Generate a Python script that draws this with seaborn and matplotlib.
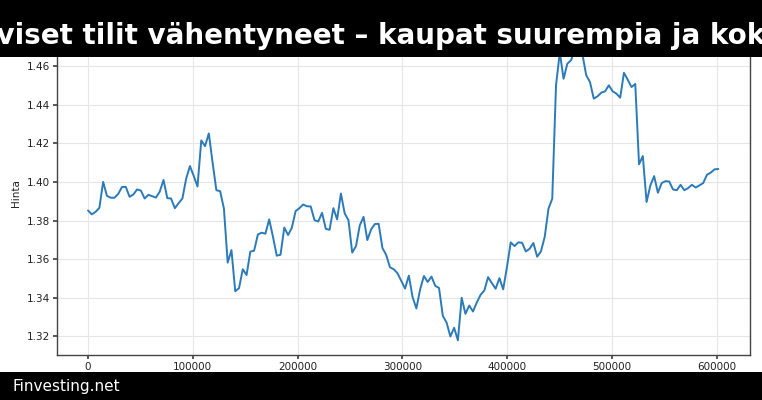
import matplotlib
matplotlib.use("Agg")
import matplotlib.pyplot as plt
from matplotlib.patches import Rectangle
import matplotlib.ticker as mticker
import seaborn as sns
import pandas as pd
import numpy as np

# ---- data ----
title_text = "Aktiiviset tilit vähentyneet – kaupat suurempia ja kokoisia"
footer_text = "Finvesting.net"
y_label = "Hinta"
x_step = 3603  # spacing between consecutive observations on the x axis
x_ticks = [0, 100000, 200000, 300000, 400000, 500000, 600000]
y_ticks = [1.32, 1.34, 1.36, 1.38, 1.40, 1.42, 1.44, 1.46]

prices = [
    1.3852, 1.3832, 1.3845, 1.3866, 1.4000, 1.3928, 1.3918, 1.3918, 1.3938, 1.3974,
    1.3974, 1.3923, 1.3935, 1.3961, 1.3955, 1.3914, 1.3933, 1.3926, 1.3919, 1.3950,
    1.4010, 1.3916, 1.3914, 1.3864, 1.3890, 1.3914, 1.4017, 1.4082, 1.4031, 1.3976,
    1.4215, 1.4185, 1.4251, 1.4100, 1.3957, 1.3952, 1.3862, 1.3582, 1.3647, 1.3434,
    1.3450, 1.3548, 1.3518, 1.3639, 1.3644, 1.3728, 1.3737, 1.3732, 1.3806, 1.3716,
    1.3618, 1.3623, 1.3764, 1.3725, 1.3763, 1.3849, 1.3864, 1.3883, 1.3874, 1.3873,
    1.3802, 1.3795, 1.3840, 1.3757, 1.3752, 1.3864, 1.3806, 1.3940, 1.3837, 1.3802,
    1.3634, 1.3668, 1.3775, 1.3819, 1.3699, 1.3754, 1.3782, 1.3783, 1.3658, 1.3622,
    1.3558, 1.3548, 1.3527, 1.3487, 1.3448, 1.3515, 1.3403, 1.3345, 1.3444, 1.3513,
    1.3482, 1.3510, 1.3462, 1.3451, 1.3307, 1.3272, 1.3200, 1.3245, 1.3180, 1.3400,
    1.3317, 1.3360, 1.3329, 1.3376, 1.3415, 1.3438, 1.3507, 1.3476, 1.3447, 1.3502,
    1.3444, 1.3559, 1.3687, 1.3668, 1.3687, 1.3685, 1.3640, 1.3654, 1.3684, 1.3613,
    1.3640, 1.3715, 1.3861, 1.3913, 1.4500, 1.4670, 1.4534, 1.4612, 1.4630, 1.4690,
    1.4700, 1.4660, 1.4552, 1.4517, 1.4431, 1.4443, 1.4462, 1.4469, 1.4500, 1.4469,
    1.4457, 1.4436, 1.4565, 1.4529, 1.4491, 1.4507, 1.4091, 1.4134, 1.3896, 1.3982,
    1.4030, 1.3944, 1.3994, 1.4004, 1.4002, 1.3961, 1.3957, 1.3985, 1.3957, 1.3968,
    1.3985, 1.3971, 1.3982, 1.3994, 1.4037, 1.4048, 1.4065, 1.4067,
]

df = pd.DataFrame({"x": np.arange(len(prices)) * x_step, "Hinta": prices})

sns.set_theme(style="whitegrid")
plt.rcParams["font.family"] = ["DejaVu Sans"]
plt.rcParams.update({
    "axes.edgecolor": "#444444",
    "axes.linewidth": 1.0,
    "grid.color": "#e6e6e6",
    "grid.linewidth": 0.8,
    "xtick.bottom": True,
    "ytick.left": True,
    "xtick.major.size": 3,
    "ytick.major.size": 3,
    "xtick.color": "#444444",
    "ytick.color": "#444444",
    "xtick.labelcolor": "#222222",
    "ytick.labelcolor": "#222222",
    "xtick.major.pad": 2,
    "ytick.major.pad": 2,
})

fig = plt.figure(figsize=(7.62, 4.0), dpi=100)
ax = fig.add_axes([0.0742, 0.1125, 0.9098, 0.8075])

sns.lineplot(data=df, x="x", y="Hinta", ax=ax, color="#2b7bba", linewidth=1.4)

ax.set_xlabel("")
ax.set_ylabel(y_label, fontsize=7.5, color="#222222")
ax.tick_params(labelsize=7.5)
ax.set_xticks(x_ticks)
ax.set_yticks(y_ticks)
ax.yaxis.set_major_formatter(mticker.FormatStrFormatter("%.2f"))
ax.xaxis.set_major_formatter(mticker.FuncFormatter(lambda v, p: f"{int(v)}"))
for s in ax.spines.values():
    s.set_visible(True)
    s.set_color("#444444")

# header and footer bands
fig.add_artist(Rectangle((0, 1 - 57 / 400), 1, 57 / 400, transform=fig.transFigure,
                         facecolor="black", edgecolor="none", zorder=10))
fig.add_artist(Rectangle((0, 0), 1, 28 / 400, transform=fig.transFigure,
                         facecolor="black", edgecolor="none", zorder=10))
fig.text(0.5, 1 - 44.5 / 400, title_text, ha="center", va="baseline", color="white",
         fontsize=20, fontweight="bold", zorder=11)
fig.text(12 / 762, 1 - 390.5 / 400, footer_text, ha="left", va="baseline",
         color="white", fontsize=11, zorder=11)

fig.savefig("out.png", dpi=100)
